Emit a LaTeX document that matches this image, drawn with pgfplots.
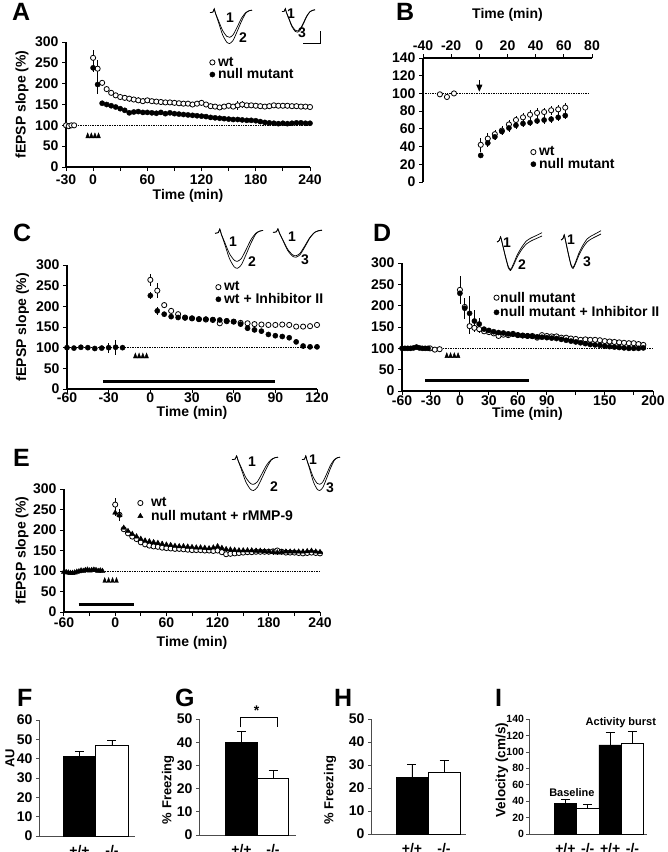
\documentclass[border=0pt]{standalone}
\usepackage{fontspec}
\setmainfont{Liberation Sans}
\usepackage{pgfplots}
\usepackage{pgfplotstable}
\pgfplotsset{compat=1.18}
\usetikzlibrary{arrows.meta}
\newcommand{\fs}{\fontsize{14}{15}\selectfont\bfseries}
\newcommand{\fl}{\fontsize{25}{25}\selectfont\bfseries}
\pgfplotsset{
  panel/.style={
    scale only axis, axis lines*=left, clip=false,
    axis line style={line width=1.1pt},
    tick align=outside, major tick length=4pt, minor tick length=4pt,
    every tick/.style={black, line width=1pt},
    tick label style={font=\fs},
    label style={font=\fs},
    /pgf/number format/assume math mode=true,
    xticklabel={\pgfmathprintnumber{\tick}},
    yticklabel={\pgfmathprintnumber{\tick}},
    legend cell align=left,
    legend style={draw=none, fill=none, font=\fs, inner sep=0pt, row sep=0pt,
      nodes={inner sep=0.5pt}},
    legend image code/.code={\draw[mark repeat=2,mark phase=2,##1] plot coordinates {(0pt,0pt)(3pt,0pt)(6pt,0pt)}; \path (0pt,0pt) (8pt,0pt);},
  },
  barpanel/.style={
    scale only axis, axis x line*=bottom, axis y line*=left, clip=false,
    axis line style={line width=0.7pt, black!70},
    ytick align=outside, major tick length=3pt,
    every tick/.style={black!70, line width=0.7pt},
    xtick style={draw=none},
    tick label style={font=\fs},
    xticklabel style={yshift=-6pt},
    label style={font=\fontsize{13}{14}\selectfont\bfseries},
    /pgf/number format/assume math mode=true,
    yticklabel={\pgfmathprintnumber{\tick}},
    ymin=0, xtick={1,2}, xticklabels={+/+,-/-},
  },
  eb/.style={error bars/.cd, y dir=both, y explicit, error mark=none, error bar style={line width=0.6pt, black}},
  openc/.style={only marks, mark=*, mark size=2.6pt, mark options={fill=white, draw=black, line width=0.8pt}},
  fillc/.style={only marks, mark=*, mark size=2.6pt, mark options={fill=black, draw=black}},
  filltri/.style={only marks, mark=triangle*, mark size=3pt, mark options={fill=black, draw=black}},
  tet/.style={only marks, mark=triangle*, mark size=2.2pt, mark options={fill=black, draw=black, yscale=1.5}, forget plot},
  hline/.style={densely dotted, line width=0.7pt, black, forget plot},
  drug/.style={line width=2.8pt, black, forget plot},
  bareb/.style={error bars/.cd, y dir=plus, y explicit, error mark options={rotate=90, mark size=4.5pt, line width=0.8pt}, error bar style={line width=0.8pt, black}},
}
% ---------- traces ----------
\pgfplotstableread{
x y
0 0
0.07 0.02
0.1 0.12
0.13 -0.02
0.2 -0.3
0.3 -0.72
0.4 -0.96
0.47 -1.0
0.55 -0.9
0.65 -0.6
0.75 -0.28
0.85 -0.02
0.93 0.06
1 0.08
}\TrBig
\pgfplotstableread{
x y
0 0
0.07 0.02
0.1 0.12
0.13 -0.02
0.2 -0.25
0.3 -0.58
0.4 -0.77
0.47 -0.8
0.55 -0.72
0.65 -0.46
0.75 -0.18
0.85 0.0
0.93 0.06
1 0.08
}\TrSmall
\pgfplotstableread{
x y
0 0
0.07 0.02
0.1 0.12
0.13 -0.02
0.2 -0.27
0.3 -0.62
0.4 -0.82
0.47 -0.85
0.55 -0.77
0.65 -0.5
0.75 -0.2
0.85 0.0
0.93 0.05
1 0.07
}\TrMid
\pgfplotstableread{
x y
0 -0.05
0.05 0.0
0.08 0.12
0.11 -0.05
0.18 -0.5
0.25 -0.9
0.3 -1.0
0.36 -0.85
0.45 -0.55
0.55 -0.3
0.65 -0.12
0.75 -0.02
0.85 0.05
1 0.15
}\TrDa
\pgfplotstableread{
x y
0 -0.05
0.05 0.0
0.08 0.12
0.11 -0.05
0.18 -0.48
0.25 -0.86
0.3 -0.97
0.36 -0.8
0.45 -0.48
0.55 -0.22
0.65 -0.02
0.75 0.08
0.85 0.15
1 0.26
}\TrDb
\newcommand{\trace}[6]{%
  \begin{axis}[at={(#1pt,-#2pt)}, anchor=north west, hide axis, scale only axis,
    width=#3pt, height=#4pt, xmin=0, xmax=1, ymin=-1.05, ymax=0.15, clip=false]
    \addplot[black, line width=0.7pt, smooth, tension=0.4] table {#5};
    \addplot[black, line width=0.7pt, smooth, tension=0.4] table {#6};
  \end{axis}}
% ---------- data A ----------
\pgfplotstableread{
t v e
-30 100 2
-27 98 2
-24 100 2
-21 100 2
0 262 18
5 236 22
10 202 8
15 187 6
20 178 6
25 172 6
30 168 6
35 166 6
40 164 7
45 162 7
50 160 7
55 158 7
60 160 6
65 158 6
70 157 6
75 156 6
80 155 6
85 155 6
90 154 6
95 153 6
100 152 6
105 152 6
110 150 6
115 152 6
120 154 8
125 150 6
130 146 6
135 145 6
140 143 6
145 145 6
150 147 6
155 145 6
160 148 10
165 150 8
170 148 6
175 148 6
180 147 6
185 146 6
190 145 6
195 146 6
200 148 6
205 147 6
210 147 6
215 147 6
220 146 6
225 146 6
230 145 6
235 145 6
240 144 5
}\Awt
\pgfplotstableread{
t v e
0 238 10
5 198 22
10 153 5
15 150 5
20 147 5
25 144 5
30 140 5
35 136 5
40 130 5
45 132 5
50 133 5
55 131 5
60 131 5
65 130 5
70 129 5
75 131 5
80 128 5
85 130 5
90 128 5
95 127 5
100 126 5
105 125 5
110 124 5
115 123 5
120 122 5
125 121 5
130 119 5
135 118 5
140 117 5
145 116 5
150 115 5
155 114 5
160 114 5
165 113 5
170 112 5
175 112 5
180 111 5
185 109 5
190 107 5
195 106 5
200 105 5
205 104 5
210 105 5
215 104 5
220 105 5
225 106 5
230 106 5
235 105 5
240 105 4
}\Anull
% ---------- data B ----------
\pgfplotstableread{
t v e
-28 99 2
-23 96 2
-18 100 2
1 42 8
6 49 6
11 54 5
16 58 5
21 65 5
26 70 5
31 73 5
36 76 5
41 78 5
46 79 5
51 81 5
56 82 5
61 84 5
}\Bwt
\pgfplotstableread{
t v e
1 30 3
6 44 4
11 51 4
16 57 4
21 61 4
26 64 4
31 66 4
36 67 4
41 69 4
46 70 4
51 71 4
56 73 4
61 75 4
}\Bnull
% ---------- data C ----------
\pgfplotstableread{
t v e
0 264 15
5 238 18
10 203 8
15 189 6
20 181 6
25 173 6
30 171 6
35 169 6
40 168 6
45 167 6
50 159 6
55 164 6
60 163 6
65 160 6
70 159 6
75 157 6
80 156 6
85 155 6
90 155 6
95 156 6
100 155 6
105 151 6
110 151 6
115 152 6
120 155 6
}\Cwt
\pgfplotstableread{
t v e
-60 100 2
-55 99 2
-50 101 2
-45 100 2
-40 98 2
-35 99 2
-30 100 12
-25 101 18
-20 100 6
0 226 8
5 189 10
10 181 6
15 175 6
20 173 6
25 172 6
30 171 6
35 169 6
40 169 6
45 168 6
50 167 6
55 165 6
60 163 6
65 157 6
70 147 6
75 143 6
80 140 6
85 132 6
90 129 6
95 127 6
100 124 6
105 114 6
110 104 6
115 102 6
120 102 6
}\Cinh
% ---------- data D ----------
\pgfplotstableread{
t v e
-31 100 2
-26 97 2
-21 98 2
0 237 33
5 197 20
10 152 18
15 148 10
20 145 8
25 140 6
30 138 5
35 135 5
40 129 6
45 132 5
50 131 5
55 134 5
60 131 5
65 130 5
70 129 5
75 129 5
80 125 5
85 131 5
90 129 5
95 128 5
100 128 5
105 125 5
110 125 5
115 123 5
120 122 5
125 120 5
130 121 5
135 120 5
140 120 5
145 119 5
150 117 5
155 116 5
160 115 5
165 114 5
170 113 5
175 112 5
180 112 5
185 110 5
190 108 5
}\Dnull
\pgfplotstableread{
t v e
-60 100 2
-57 100 2
-54 100 2
-51 100 2
-48 101 2
-45 103 2
-42 101 2
-39 100 2
-36 100 2
-33 100 2
0 229 15
5 194 25
10 182 40
15 164 25
20 157 15
25 145 5
30 142 5
35 139 5
40 137 5
45 136 5
50 134 5
55 133 5
60 131 5
65 130 5
70 129 5
75 128 5
80 127 5
85 126 5
90 125 5
95 124 5
100 123 5
105 121 5
110 119 5
115 117 5
120 115 5
125 113 5
130 111 5
135 109 5
140 108 5
145 107 5
150 105 5
155 104 5
160 103 5
165 102 5
170 101 5
175 100 5
180 100 5
185 100 5
190 101 5
}\Dinh
% ---------- data E ----------
\pgfplotstableread{
t v e
0 262 15
5 237 10
10 202 6
15 192 6
20 184 6
25 178 6
30 170 6
35 165 6
40 162 6
45 160 6
50 159 6
55 157 6
60 156 6
65 155 6
70 154 6
75 154 6
80 153 6
85 152 6
90 151 6
95 151 6
100 151 6
105 150 6
110 150 6
115 149 6
120 150 6
125 146 6
130 141 7
135 142 6
140 143 6
145 144 6
150 145 6
155 146 6
160 146 6
165 147 6
170 147 6
175 147 6
180 147 6
185 148 6
190 150 6
195 147 6
200 145 6
205 145 6
210 145 6
215 144 6
220 143 6
225 144 6
230 145 6
235 144 6
240 143 6
}\Ewt
\pgfplotstableread{
t v e
-60 98 2
-57.5 97 2
-55 96 2
-52.5 95 2
-50 95 2
-47.5 96 2
-45 98 2
-42.5 99 2
-40 101 2
-37.5 100 2
-35 102 2
-32.5 103 2
-30 101 2
-27.5 102 2
-25 103 2
-22.5 102 2
-20 100 2
-17.5 101 2
-15 100 2
0 242 8
5 236 15
10 205 6
15 197 6
20 190 6
25 184 6
30 178 6
35 174 6
40 172 6
45 170 6
50 168 6
55 166 6
60 164 6
65 163 6
70 161 6
75 160 6
80 160 6
85 159 6
90 158 6
95 157 6
100 157 6
105 156 6
110 155 6
115 157 6
120 160 6
125 156 6
130 153 6
135 152 6
140 151 6
145 150 6
150 150 6
155 150 6
160 150 6
165 149 6
170 149 6
175 148 6
180 147 6
185 146 6
190 145 6
195 146 6
200 147 6
205 147 6
210 147 6
215 147 6
220 147 6
225 148 6
230 149 6
235 147 6
240 146 6
}\Emmp
\begin{document}
\begin{tikzpicture}
\useasboundingbox (0pt,0pt) rectangle (668pt,-852pt);
% panel letters
\node[anchor=base west, inner sep=0, font=\fl] at (12pt,-20.5pt) {A};
\node[anchor=base west, inner sep=0, font=\fl] at (396pt,-20pt) {B};
\node[anchor=base west, inner sep=0, font=\fl] at (13pt,-241pt) {C};
\node[anchor=base west, inner sep=0, font=\fl] at (373pt,-241pt) {D};
\node[anchor=base west, inner sep=0, font=\fl] at (13pt,-466pt) {E};
\node[anchor=base west, inner sep=0, font=\fl] at (17pt,-706pt) {F};
\node[anchor=base west, inner sep=0, font=\fl] at (175pt,-706pt) {G};
\node[anchor=base west, inner sep=0, font=\fl] at (334pt,-706pt) {H};
\node[anchor=base west, inner sep=0, font=\fl] at (495pt,-706pt) {I};
% ================= A =================
\begin{axis}[panel, at={(66pt,-167pt)}, anchor=south west, width=244pt, height=125pt,
  xmin=-30, xmax=240, ymin=0, ymax=300,
  xtick={-30,0,60,120,180,240}, minor xtick={30,90,150,210}, ytick={0,50,...,300},
  xlabel={Time (min)}, ylabel={fEPSP slope (\%)},
  xlabel style={at={(rel axis cs:0.5,0)}, anchor=center, yshift=-29pt},
  ylabel style={at={(rel axis cs:0,0.5)}, anchor=center, yshift=44pt},
  legend style={at={(0.586,0.885)}, anchor=north west}]
\addplot[hline] coordinates {(-30,100) (240,100)};
\addplot[openc, eb] table[x=t, y=v, y error=e] {\Awt};
\addlegendentry{wt}
\addplot[fillc, eb] table[x=t, y=v, y error=e] {\Anull};
\addlegendentry{null mutant}
\addplot[tet] coordinates {(-6,74) (-2,74) (2,74) (6,74)};
\end{axis}
\trace{210}{8}{42}{37}{\TrSmall}{\TrBig}
\trace{282}{8}{33}{29}{\TrSmall}{\TrMid}
\draw[line width=0.8pt] (303pt,-43pt) -- (320pt,-43pt) -- (320pt,-31pt);
\node[font=\fs] at (230pt,-18pt) {1};
\node[font=\fs] at (243pt,-38pt) {2};
\node[font=\fs] at (291pt,-14pt) {1};
\node[font=\fs] at (302pt,-33pt) {3};
% ================= B =================
\begin{axis}[panel, at={(423pt,-182pt)}, anchor=south west, width=169pt, height=124pt,
  axis x line*=top, axis y line*=left,
  xmin=-40, xmax=80, ymin=0, ymax=140,
  xtick={-40,-20,...,80}, ytick={0,20,...,140},
  xlabel={Time (min)},
  xlabel style={at={(rel axis cs:0.5,1)}, anchor=center, yshift=43pt},
  legend style={at={(0.633,0.29)}, anchor=north west}]
\addplot[hline] coordinates {(-40,100) (78,100)};
\addplot[openc, eb] table[x=t, y=v, y error=e] {\Bwt};
\addlegendentry{wt}
\addplot[fillc, eb] table[x=t, y=v, y error=e] {\Bnull};
\addlegendentry{null mutant}
\addplot[black, line width=0.9pt, -{Triangle[length=7pt,width=6pt]}, forget plot] coordinates {(0,115) (0,102)};
\end{axis}
% ================= C =================
\begin{axis}[panel, at={(67pt,-389pt)}, anchor=south west, width=250pt, height=124pt,
  xmin=-60, xmax=120, ymin=0, ymax=300,
  xtick={-60,-30,...,120}, ytick={0,50,...,300},
  xticklabel style={yshift=4pt},
  xlabel={Time (min)}, ylabel={fEPSP slope (\%)},
  xlabel style={at={(rel axis cs:0.5,0)}, anchor=center, yshift=-24pt},
  ylabel style={at={(rel axis cs:0,0.5)}, anchor=center, yshift=44.5pt},
  legend style={at={(0.592,0.87)}, anchor=north west}]
\addplot[hline] coordinates {(-60,100) (120,100)};
\addplot[drug] coordinates {(-34,18.6) (90,18.6)};
\addplot[openc, eb] table[x=t, y=v, y error=e] {\Cwt};
\addlegendentry{wt}
\addplot[fillc, eb] table[x=t, y=v, y error=e] {\Cinh};
\addlegendentry{wt + Inhibitor II}
\addplot[tet] coordinates {(-10.8,79) (-8.1,79) (-5.4,79) (-2.7,79)};
\end{axis}
\trace{215}{228}{48}{42}{\TrSmall}{\TrBig}
\trace{273}{228}{49}{35}{\TrSmall}{\TrMid}
\node[font=\fs] at (233pt,-242pt) {1};
\node[font=\fs] at (252pt,-262pt) {2};
\node[font=\fs] at (292pt,-237pt) {1};
\node[font=\fs] at (305pt,-260pt) {3};
% ================= D =================
\begin{axis}[panel, at={(402pt,-391pt)}, anchor=south west, width=251pt, height=128pt,
  xmin=-60, xmax=200, ymin=0, ymax=300,
  xtick={-60,-30,0,30,60,90,150,200}, minor xtick={120,180}, ytick={0,50,...,300},
  xticklabel style={yshift=3pt},
  xlabel={Time (min)},
  xlabel style={at={(rel axis cs:0.5,0)}, anchor=center, yshift=-23pt},
  legend image code/.code={\draw[mark repeat=2,mark phase=2,#1] plot coordinates {(0pt,0pt)(3pt,0pt)(6pt,0pt)}; \path (0pt,0pt) (6pt,0pt);},
  legend style={at={(0.363,0.78)}, anchor=north west, row sep=2pt}]
\addplot[hline] coordinates {(-60,100) (200,100)};
\addplot[drug] coordinates {(-36,23.8) (72,23.8)};
\addplot[openc, eb] table[x=t, y=v, y error=e] {\Dnull};
\addlegendentry{null mutant}
\addplot[fillc, eb] table[x=t, y=v, y error=e] {\Dinh};
\addlegendentry{null mutant + Inhibitor II}
\addplot[tet] coordinates {(-13.6,82) (-9.7,82) (-5.8,82) (-1.9,82)};
\end{axis}
\trace{497}{236}{45}{36}{\TrDa}{\TrDb}
\trace{561}{234}{40}{36}{\TrDa}{\TrDb}
\node[font=\fs] at (507pt,-243pt) {1};
\node[font=\fs] at (522pt,-265pt) {2};
\node[font=\fs] at (571pt,-240pt) {1};
\node[font=\fs] at (587pt,-262pt) {3};
% ================= E =================
\begin{axis}[panel, at={(64pt,-612pt)}, anchor=south west, width=256pt, height=123pt,
  xmin=-60, xmax=240, ymin=0, ymax=300,
  xtick={-60,0,60,120,180,240}, minor xtick={-30,30,90,150,210}, ytick={0,50,...,300},
  xticklabel style={yshift=2pt},
  xlabel={Time (min)}, ylabel={fEPSP slope (\%)},
  xlabel style={at={(rel axis cs:0.5,0)}, anchor=center, yshift=-31pt},
  ylabel style={at={(rel axis cs:0,0.5)}, anchor=center, yshift=42pt},
  legend image code/.code={\draw[mark repeat=2,mark phase=2,#1] plot coordinates {(0pt,0pt)(3pt,0pt)(6pt,0pt)}; \path (0pt,0pt) (13pt,0pt);},
  legend style={at={(0.285,0.935)}, anchor=north west, row sep=1pt}]
\addplot[hline] coordinates {(-60,100) (240,100)};
\addplot[drug] coordinates {(-43,19) (21.5,19)};
\addplot[openc, eb] table[x=t, y=v, y error=e] {\Ewt};
\addlegendentry{wt}
\addplot[filltri, eb] table[x=t, y=v, y error=e] {\Emmp};
\addlegendentry{null mutant + rMMP-9}
\addplot[tet] coordinates {(-12.3,76) (-7.7,76) (-3.1,76) (1.5,76)};
\end{axis}
\trace{232}{455}{46}{37}{\TrSmall}{\TrBig}
\trace{302}{455}{38}{37}{\TrSmall}{\TrBig}
\node[font=\fs] at (252pt,-462pt) {1};
\node[font=\fs] at (274pt,-487pt) {2};
\node[font=\fs] at (313pt,-460pt) {1};
\node[font=\fs] at (330pt,-488pt) {3};
% ================= F =================
\begin{axis}[barpanel, at={(39pt,-836pt)}, anchor=south west, width=96pt, height=116pt,
  xmin=-0.246, xmax=2.708, ymax=60, ytick={0,10,...,60},
  ylabel={AU}, ylabel style={at={(rel axis cs:0,0.67)}, anchor=center, yshift=29pt}]
\addplot[ybar, bar width=1, bar shift=0pt, fill=black, draw=black, line width=0.8pt, bareb] coordinates {(1,41.4) +- (0,2.3)};
\addplot[ybar, bar width=1, bar shift=0pt, fill=white, draw=black, line width=0.8pt, bareb] coordinates {(2,46.7) +- (0,2.6)};
\end{axis}
% ================= G =================
\begin{axis}[barpanel, at={(199pt,-835pt)}, anchor=south west, width=97pt, height=116pt,
  xmin=-0.349, xmax=2.73, ymax=50, ytick={0,10,...,50},
  ylabel={\% Freezing}, ylabel style={at={(rel axis cs:0,0.39)}, anchor=center, yshift=31pt}]
\addplot[ybar, bar width=1, bar shift=0pt, fill=black, draw=black, line width=0.8pt, bareb] coordinates {(1,39.8) +- (0,4.8)};
\addplot[ybar, bar width=1, bar shift=0pt, fill=white, draw=black, line width=0.8pt, bareb] coordinates {(2,24.2) +- (0,3.5)};
\addplot[black, line width=0.9pt, forget plot] coordinates {(0.975,46.4) (0.975,50.7) (2.137,50.7) (2.137,46.4)};
\node[font=\fs] at (axis cs:1.48,53.5) {*};
\end{axis}
% ================= H =================
\begin{axis}[barpanel, at={(371pt,-834pt)}, anchor=south west, width=95pt, height=115pt,
  xmin=-0.281, xmax=2.6875, ymax=50, ytick={0,10,...,50},
  ylabel={\% Freezing}, ylabel style={at={(rel axis cs:0,0.38)}, anchor=center, yshift=41pt}]
\addplot[ybar, bar width=1, bar shift=0pt, fill=black, draw=black, line width=0.8pt, bareb] coordinates {(1,24.5) +- (0,5.8)};
\addplot[ybar, bar width=1, bar shift=0pt, fill=white, draw=black, line width=0.8pt, bareb] coordinates {(2,26.8) +- (0,5.1)};
\end{axis}
% ================= I =================
\begin{axis}[barpanel, at={(529pt,-834pt)}, anchor=south west, width=118pt, height=115pt,
  xmin=-0.63, xmax=4.65, ymax=140, ytick={0,20,...,140},
  yticklabel style={font=\fontsize{10.5}{11}\selectfont\bfseries, xshift=1.5pt},
  xtick={1,2,3,4}, xticklabels={+/+,-/-,+/+,-/-},
  ylabel={Velocity (cm/s)}, ylabel style={font=\fontsize{13.5}{14}\selectfont\bfseries, at={(rel axis cs:0,0.556)}, anchor=center, yshift=27pt}]
\addplot[ybar, bar width=1, bar shift=0pt, fill=black, draw=black, line width=0.8pt, bareb] coordinates {(1,37.4) +- (0,5.2) (3,108.4) +- (0,15)};
\addplot[ybar, bar width=1, bar shift=0pt, fill=white, draw=black, line width=0.8pt, bareb] coordinates {(2,31.3) +- (0,4.9) (4,110.5) +- (0,14.1)};
\node[font=\fontsize{11}{12}\selectfont\bfseries] at (axis cs:1.29,50) {Baseline};
\node[font=\fontsize{11}{12}\selectfont\bfseries] at (axis cs:3.48,135) {Activity burst};
\end{axis}
\end{tikzpicture}
\end{document}
